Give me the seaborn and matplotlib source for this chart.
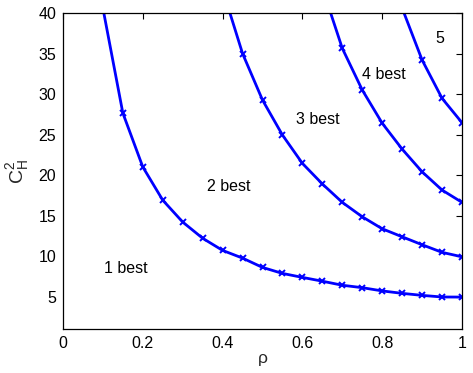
import matplotlib
matplotlib.use("Agg")
import matplotlib.pyplot as plt
import seaborn as sns
import pandas as pd

rho1 = [0.10, 0.15, 0.20, 0.25, 0.30, 0.35, 0.40, 0.45, 0.50, 0.55, 0.60, 0.65, 0.70, 0.75, 0.80, 0.85, 0.90, 0.95, 1.00]
c1 = [40.6, 27.65, 21.0, 16.9, 14.2, 12.2, 10.7, 9.75, 8.6, 7.86, 7.37, 6.9, 6.4, 6.1, 5.7, 5.4, 5.15, 4.95, 4.94]

rho2 = [0.40, 0.45, 0.50, 0.55, 0.60, 0.65, 0.70, 0.75, 0.80, 0.85, 0.90, 0.95, 1.00]
c2 = [42.9, 35.0, 29.26, 24.94, 21.44, 18.9, 16.63, 14.85, 13.37, 12.38, 11.4, 10.46, 9.91]

rho3 = [0.65, 0.70, 0.75, 0.80, 0.85, 0.90, 0.95, 1.00]
c3 = [43.1, 35.64, 30.5, 26.4, 23.2, 20.4, 18.15, 16.63]

rho4 = [0.85, 0.90, 0.95, 1.00]
c4 = [40.6, 34.2, 29.47, 26.46]

region_labels = ["1 best", "2 best", "3 best", "4 best", "5"]
label_x = [0.158, 0.415, 0.638, 0.804, 0.944]
label_y = [8.46, 18.64, 26.83, 32.38, 36.87]

xticks = [0, 0.2, 0.4, 0.6, 0.8, 1]
xtick_labels = ["0", "0.2", "0.4", "0.6", "0.8", "1"]
yticks = [5, 10, 15, 20, 25, 30, 35, 40]

frames = []
for i, (r, c) in enumerate([(rho1, c1), (rho2, c2), (rho3, c3), (rho4, c4)]):
    frames.append(pd.DataFrame({"rho": r, "C": c, "curve": f"b{i+1}"}))
df = pd.concat(frames, ignore_index=True)

sns.set_style("white")
plt.rcParams["font.family"] = ["Liberation Sans", "DejaVu Sans"]
plt.rcParams["mathtext.fontset"] = "custom"
plt.rcParams["mathtext.rm"] = "Liberation Sans"
plt.rcParams["mathtext.it"] = "Liberation Sans"

fig = plt.figure(figsize=(4.73, 3.73), dpi=100)
ax = fig.add_axes([63 / 473, 44 / 373, 399 / 473, 316 / 373])

sns.lineplot(data=df, x="rho", y="C", hue="curve", units=None, estimator=None,
             palette=["#0000ff"] * 4, marker="x", markersize=4.5, markeredgewidth=1.4,
             markeredgecolor="#0000ff", linewidth=2.0, legend=False, ax=ax, sort=False)

ax.set_xlim(0, 1)
ax.set_ylim(1, 40)
ax.set_xticks(xticks)
ax.set_xticklabels(xtick_labels)
ax.set_yticks(yticks)
ax.tick_params(direction="in", length=4, width=0.8, top=True, right=True,
               labelsize=11.5, colors="black", pad=5)
for s in ax.spines.values():
    s.set_visible(True)
    s.set_color("black")
    s.set_linewidth(0.9)

for t, x, y in zip(region_labels, label_x, label_y):
    ax.text(x, y, t, ha="center", va="center", fontsize=11.5, color="black")

ax.set_xlabel("ρ", fontsize=12.5, labelpad=0)
ax.set_ylabel("$\\mathregular{C_H^2}$", fontsize=14, labelpad=5)

fig.savefig("out.png", dpi=100, facecolor="white")
